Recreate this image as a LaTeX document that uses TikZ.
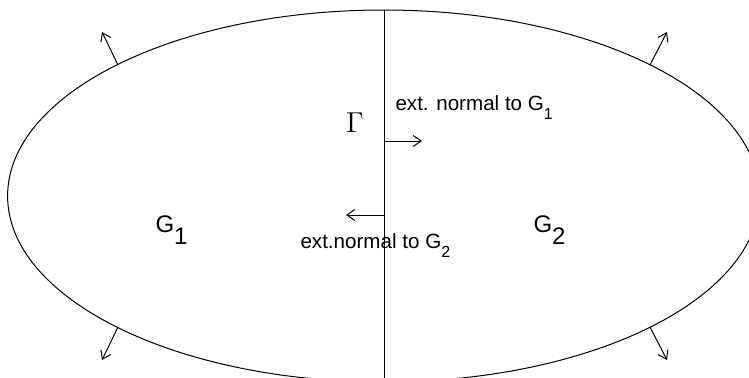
\documentclass[tikz,border=0pt]{standalone}
\usepackage{fontspec}
\setmainfont{Liberation Sans}
\usetikzlibrary{arrows.meta}
\begin{document}
\begin{tikzpicture}[x=0.5pt,y=-0.5pt, line width=0.5pt,
  vec/.style={-{Straight Barb[length=4pt,width=5.5pt]}},
  lbl/.style={inner sep=0pt, anchor=base west, font=\fontsize{10.3pt}{12pt}\selectfont},
  big/.style={inner sep=0pt, anchor=base west, font=\fontsize{12pt}{14pt}\selectfont},
]
\useasboundingbox (0,0) rectangle (749,377);
\clip (0,0) rectangle (749,377);
% boundary
\draw (383.6,196) ellipse [x radius=376, y radius=186];
% interface Gamma
\coordinate (gtop) at (384,10);
\coordinate (gbot) at (384,380);
\draw (gtop) -- (gbot);
% outer normals
\coordinate (p1) at (118,65);  \coordinate (q1) at (102,32);
\coordinate (p2) at (650,65);  \coordinate (q2) at (667,32);
\coordinate (p3) at (118,327); \coordinate (q3) at (102,360);
\coordinate (p4) at (650,327); \coordinate (q4) at (667,360);
\draw[vec] (p1) -- (q1);
\draw[vec] (p2) -- (q2);
\draw[vec] (p3) -- (q3);
\draw[vec] (p4) -- (q4);
% normals on Gamma
\coordinate (n1s) at (384,141); \coordinate (n1e) at (422,141);
\coordinate (n2s) at (384,215); \coordinate (n2e) at (346,215);
\draw[vec] (n1s) -- (n1e);
\draw[vec] (n2s) -- (n2e);
% labels
\node[font=\fontsize{13.5pt}{15pt}\selectfont, inner sep=0pt] (gam) at (355,122.5) {$\Gamma$};
\node[lbl] (t1) at (395,110.5) {ext. normal to G\raisebox{-4.5pt}{\fontsize{8pt}{9pt}\selectfont 1}};
\node[lbl] (t2) at (300,248) {ext.normal to G\raisebox{-4.5pt}{\fontsize{8pt}{9pt}\selectfont 2}};
\node[big] (g1) at (155,232) {G\raisebox{-6pt}{1}};
\node[big] (g2) at (533,232) {G\raisebox{-6pt}{2}};
\end{tikzpicture}
\end{document}
